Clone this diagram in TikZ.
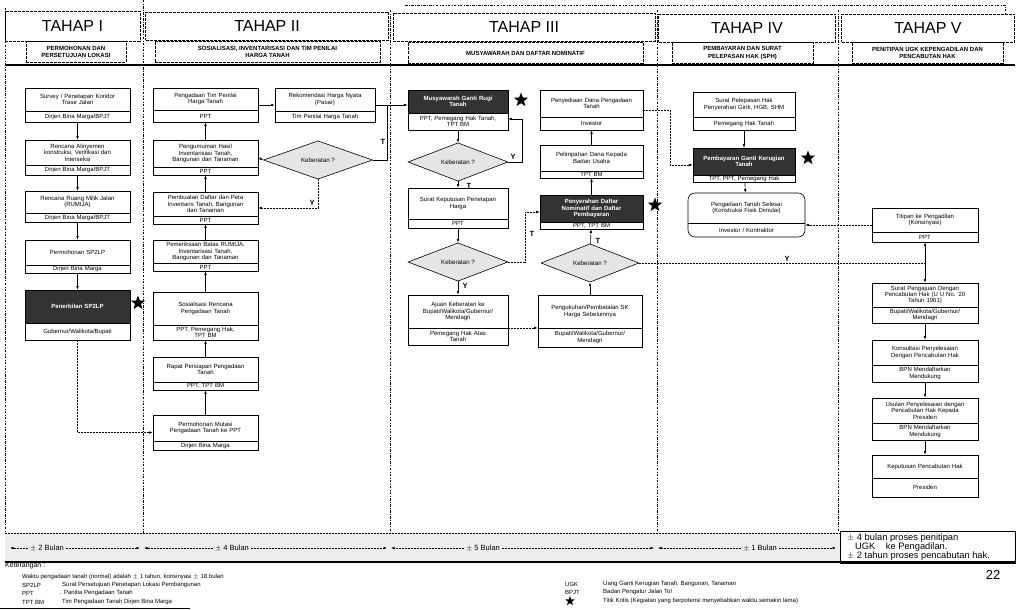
\documentclass[tikz,border=0pt]{standalone}
\usepackage{fontspec}
\setmainfont{Liberation Sans}
\usetikzlibrary{shapes.geometric,fit,arrows.meta}
\newcommand\nohy{\hyphenpenalty=10000\exhyphenpenalty=10000\tolerance=9999}
\newcommand\mkbox[8]{%
  \pgfmathsetmacro\mkw{#4-#2-3}%
  \node[bx, fit={(#2,#3) (#4,#5)}] (#1) {};
  \draw[ln] (#2,#6) -- (#4,#6);
  \node[tx, text width=\mkw pt] (#1-t) at ({(#2+#4)/2},{(#3+#6)/2}) {#7};
  \node[tx, text width=\mkw pt] (#1-b) at ({(#2+#4)/2},{(#6+#5)/2}) {#8};}
\newcommand\mkdark[8]{%
  \pgfmathsetmacro\mkw{#4-#2-3}%
  \fill[black!80] (#2,#3) rectangle (#4,#6);
  \node[bx, fit={(#2,#3) (#4,#5)}] (#1) {};
  \draw[ln] (#2,#6) -- (#4,#6);
  \node[tx, text=white, font=\fontsize{6}{6.4}\selectfont\bfseries\nohy, text width=\mkw pt] (#1-t) at ({(#2+#4)/2},{(#3+#6)/2}) {#7};
  \node[tx, text width=\mkw pt] (#1-b) at ({(#2+#4)/2},{(#6+#5)/2}) {#8};}
\newcommand\mkround[8]{%
  \pgfmathsetmacro\mkw{#4-#2-3}%
  \node[bx, rounded corners=7pt, fit={(#2,#3) (#4,#5)}] (#1) {};
  \draw[ln] (#2,#6) -- (#4,#6);
  \node[tx, text width=\mkw pt] (#1-t) at ({(#2+#4)/2},{(#3+#6)/2}) {#7};
  \node[tx, text width=\mkw pt] (#1-b) at ({(#2+#4)/2},{(#6+#5)/2}) {#8};}
\begin{document}
\begin{tikzpicture}[x=1pt,y=-1pt,
  bx/.style={draw, line width=0.6pt, inner sep=0pt},
  tx/.style={font=\fontsize{6}{6.4}\selectfont\nohy, align=center, inner sep=0pt},
  dia/.style={diamond, draw, line width=0.6pt, fill=black!10, inner sep=0pt, font=\fontsize{6.2}{7}\selectfont},
  ar/.style={-{Latex[length=3.5pt,width=2.6pt]}, line width=0.6pt},
  ln/.style={line width=0.6pt},
  dl/.style={dash pattern=on 2pt off 1pt},
  sep/.style={line width=0.6pt, dash pattern=on 2.5pt off 1.5pt on 0.6pt off 1.5pt},
  hb/.style={draw, line width=0.6pt, dash pattern=on 3pt off 1pt, font=\fontsize{16}{16}\selectfont, inner sep=0pt},
  sub/.style={draw, line width=0.6pt, dash pattern=on 3pt off 1pt, font=\fontsize{6}{7.4}\selectfont\bfseries, align=center, inner sep=0pt},
  yt/.style={font=\fontsize{7.5}{7.5}\selectfont\bfseries, inner sep=1pt},
  stt/.style={star, star points=5, star point ratio=2.4, fill=black, minimum size=15pt, inner sep=0pt},
  tl/.style={font=\fontsize{7.5}{8}\selectfont, inner sep=1.5pt, fill=black!7},
  lg/.style={font=\fontsize{6}{7}\selectfont, anchor=west, inner sep=0pt}]
\useasboundingbox (0,0) rectangle (1020,610);

% ---------- frame / headers ----------
\draw[sep] (405,5) -- (1005,5) -- (1005,14);
\draw[sep] (5,8) -- (5,563);
\draw[sep] (143,0) -- (143,533);
\draw[sep] (390,10) -- (390,533);
\draw[sep] (657,10) -- (657,533);
\draw[sep] (838,10) -- (838,533);
\node[hb, minimum width=135pt, minimum height=30pt] (h1) at (72.5,26) {TAHAP I};
\node[hb, minimum width=243pt, minimum height=28pt] (h2) at (267,26) {TAHAP II};
\node[hb, minimum width=262pt, minimum height=28pt] (h3) at (524,27) {TAHAP III};
\node[hb, minimum width=177pt, minimum height=28pt] (h4) at (747,28) {TAHAP IV};
\node[hb, minimum width=173pt, minimum height=28pt] (h5) at (928,28) {TAHAP V};
\node[sub, minimum width=100pt, minimum height=21pt] (u1) at (76,52) {PERMOHONAN DAN\\PERSETUJUAN LOKASI};
\node[sub, minimum width=225pt, minimum height=21pt] (u2) at (267.5,52) {SOSIALISASI, INVENTARISASI DAN TIM PENILAI\\HARGA TANAH};
\node[sub, minimum width=235pt, minimum height=21pt] (u3) at (525.5,53) {MUSYAWARAH DAN DAFTAR NOMINATIF};
\node[sub, minimum width=141pt, minimum height=21pt] (u4) at (742.5,53) {PEMBAYARAN DAN SURAT\\PELEPASAN HAK (SPH)};
\node[sub, minimum width=151pt, minimum height=21pt] (u5) at (927.5,53) {PENITIPAN UGK KEPENGADILAN DAN\\PENCABUTAN HAK};
\draw[line width=1.6pt] (5,65) -- (1015,65);

% ---------- Tahap I ----------
\mkbox{s1}{25}{88}{130}{122}{111}{Survey / Penetapan Koridor\\Trase Jalan}{Dirjen Bina Marga/BPJT}
\mkbox{s2}{25}{140}{130}{175}{165}{Rencana Alinyemen\\konstruksi, Verifikasi dan\\Interseksi}{Dirjen Bina Marga/BPJT}
\mkbox{s3}{25}{191}{130}{222}{213}{Rencana Ruang Milik Jalan\\(RUMIJA)}{Dirjen Bina Marga/BPJT}
\mkbox{s4}{25}{240}{130}{273}{265}{Permohonan SP2LP}{Dirjen Bina Marga}
\mkdark{s5}{25}{290}{130}{340}{323}{Penerbitan SP2LP}{Gubernur/Walikota/Bupati}
\node[stt] (st1) at (138,303) {};

% ---------- Tahap II ----------
\mkbox{p1}{153}{88}{258}{122}{110}{Pengadaan Tim Penilai\\Harga Tanah}{PPT}
\mkbox{p2}{153}{140}{258}{175}{167}{Pengumuman Hasil\\Inventarisasi Tanah,\\Bangunan dan Tanaman}{PPT}
\mkbox{p3}{153}{192}{258}{224}{216}{Pembuatan Daftar dan Peta\\Inventaris Tanah, Bangunan\\dan Tanaman}{PPT}
\mkbox{p4}{153}{240}{258}{271}{263}{Pemeriksaan Batas RUMIJA,\\Inventarisasi Tanah,\\Bangunan dan Tanaman}{PPT}
\mkbox{p5}{153}{292}{258}{340}{325}{Sosialisasi Rencana\\Pengadaan Tanah}{PPT, Pemegang Hak,\\TPT BM}
\mkbox{p6}{153}{357}{258}{390}{382}{Rapat Persiapan Pengadaan\\Tanah}{PPT, TPT BM}
\mkbox{p7}{153}{415}{258}{450}{441}{Permohonan Mutasi\\Pengadaan Tanah ke PPT}{Dirjen Bina Marga}
\mkbox{r1}{275}{88}{375}{122}{111}{Rekomendasi Harga Nyata\\(Pasar)}{Tim Penilai Harga Tanah}
\node[dia, minimum width=109pt, minimum height=36pt] (k1) at (318,160) {Keberatan ?};

% ---------- Tahap III ----------
\mkdark{m1}{408}{90}{508}{130}{113}{Musyawarah Ganti Rugi\\Tanah}{PPT, Pemegang Hak Tanah,\\TPT BM}
\node[stt] (st2) at (521,100) {};
\node[dia, minimum width=100pt, minimum height=33pt] (k2) at (458,162) {Keberatan ?};
\mkbox{m2}{408}{188}{508}{228}{219}{Surat Keputusan Penetapan\\Harga}{PPT}
\node[dia, minimum width=100pt, minimum height=35pt] (k3) at (458,262) {Keberatan ?};
\mkbox{m3}{408}{295}{508}{345}{328}{Ajuan Keberatan ke\\Bupati/Walikota/Gubernur/\\Mendagri}{Pemegang Hak Atas\\Tanah}
\mkbox{n1}{540}{90}{643}{130}{117}{Penyediaan Dana Pengadaan\\Tanah}{Investor}
\mkbox{n2}{540}{145}{643}{178}{171}{Pelimpahan Dana Kepada\\Badan Usaha}{TPT BM}
\mkdark{n3}{540}{195}{643}{229}{222}{Penyerahan Daftar\\Nominatif dan Daftar\\Pembayaran}{PPT, TPT BM}
\node[stt] (st3) at (655,205) {};
\node[dia, minimum width=98pt, minimum height=33pt] (k4) at (590,263) {Keberatan ?};
\mkbox{n4}{538}{295}{642}{347}{328}{Pengukuhan/Pembatalan SK\\Harga Sebelumnya}{Bupati/Walikota/Gubernur/\\Mendagri}

% ---------- Tahap IV ----------
\mkbox{v1}{693}{92}{795}{130}{117}{Surat Pelepasan Hak\\Penyerahan Girik, HGB, SHM}{Pemegang Hak Tanah}
\mkdark{v2}{693}{148}{795}{182}{175}{Pembayaran Ganti Kerugian\\Tanah}{TPT, PPT, Pemegang Hak}
\node[stt] (st4) at (808,158) {};
\mkround{v3}{688}{193}{805}{237}{223}{Pengadaan Tanah Selesai\\(Konstruksi Fisik Dimulai)}{Investor / Kontraktor}

% ---------- Tahap V ----------
\mkbox{w1}{872}{208}{978}{242}{232}{Titipan ke Pengadilan\\(Konsinyasi)}{PPT}
\mkbox{w2}{872}{283}{978}{323}{307}{Surat Pengajuan Dengan\\Pencabutan Hak (U U No. 20\\Tahun 1961)}{Bupati/Walikota/Gubernur/\\Mendagri}
\mkbox{w3}{872}{340}{978}{382}{365}{Konsultasi Penyelesaian\\Dengan Pencabutan Hak}{BPN Mendaftarkan\\Mendukung}
\mkbox{w4}{872}{398}{978}{440}{423}{Usulan Penyelesaian dengan\\Pencabutan Hak Kepada\\Presiden}{BPN Mendaftarkan\\Mendukung}
\mkbox{w5}{872}{455}{978}{497}{478}{Keputusan Pencabutan Hak}{Presiden}

% ---------- connectors ----------
\draw[ar] (s1) -- (s2);
\draw[ar] (s2) -- (s3);
\draw[ar] (s3) -- (s4);
\draw[ar] (s4) -- (s5);
\draw[ar,dl] (s5.south) |- (p7.west);
\draw[ar] (p7) -- (p6);
\draw[ar] (p6) -- (p5);
\draw[ar] (p5) -- (p4);
\draw[ar] (p4) -- (p3);
\draw[ar] (p3) -- (p2);
\draw[ar] (p2) -- (p1);
\draw[ar] (p1.east) -- (p1.east -| r1.west);
\draw[ar] (p2.east) -- (k1.west);
\draw[ar,dl] (k1.south) |- (p3.east);
\node[yt] (ly1) at (312,203) {Y};
\coordinate (j1) at (387,105);
\draw[ar] (r1.east) -- (r1.east -| m1.west);
\draw[ln] (k1.east) -| (j1);
\node[yt] (lt1) at (383,142) {T};
\draw[ar] (m1) -- (k2);
\coordinate (j2) at (522,119);
\draw[ar] (k2.east) -| (j2) -- (j2 -| m1.east);
\node[yt] (ly2) at (513,157) {Y};
\draw[ar] (k2) -- (m2);
\node[yt] (lt2) at (469,186) {T};
\draw[ar] (m2) -- (k3);
\coordinate (j3) at (525,212);
\draw[ar,dl] (k3.east) -| (j3) -- (j3 -| n3.west);
\node[yt] (lt3) at (532,234) {T};
\draw[ar] (k3) -- (m3);
\node[yt] (ly3) at (465,286) {Y};
\draw[ar,dl] ([yshift=-8pt]m3.east) -- ([yshift=-8pt]m3.east -| n4.west);
\draw[ar] (n4) -- (k4);
\draw[ar] (k4) -- (n3);
\node[yt] (lt4) at (598,241) {T};
\draw[ar] (n3) -- (n2);
\draw[ar] (n2) -- (n1);
\coordinate (j4) at (670,110);
\draw[ar,dl] (n1.east) -- (j4) |- (v2.west);
\draw[ar] (v1) -- (v2);
\draw[ar] (v2) -- (v3);
\coordinate (j5) at (925,263);
\draw[ln,dl] (k4.east) -- (j5);
\node[yt] (ly4) at (787,259) {Y};
\draw[ar] (j5) -- (w1.south);
\draw[ar] (j5) -- (w2.north);
\draw[ar,dl] (w1.west) -- (w1.west -| v3.east);
\draw[ar] (w2) -- (w3);
\draw[ar] (w3) -- (w4);
\draw[ar] (w4) -- (w5);

% ---------- timeline ----------
\fill[black!7] (5,533) rectangle (840,562);
\draw[ln,dl] (5,533) -- (840,533);
\draw[line width=1.2pt] (5,562) -- (1015,562);
\node[tl] (t1) at (47,548) {$\pm$ 2 Bulan};
\node[tl] (t2) at (232,548) {$\pm$ 4 Bulan};
\node[tl] (t3) at (483,548) {$\pm$ 5 Bulan};
\node[tl] (t4) at (760,548) {$\pm$ 1 Bulan};
\coordinate (e0) at (10,548);
\coordinate (e1) at (140,548);
\coordinate (e2) at (387,548);
\coordinate (e3) at (654,548);
\coordinate (e4) at (836,548);
\draw[ar,dl] (t1.west) -- (e0);
\draw[ar,dl] (t1.east) -- (e1);
\draw[ar,dl] (t2.west) -- ([xshift=4pt]e1);
\draw[ar,dl] (t2.east) -- (e2);
\draw[ar,dl] (t3.west) -- ([xshift=4pt]e2);
\draw[ar,dl] (t3.east) -- (e3);
\draw[ar,dl] (t4.west) -- ([xshift=4pt]e3);
\draw[ar,dl] (t4.east) -- (e4);
\node[draw, line width=0.7pt, minimum width=175pt, minimum height=32pt, inner sep=0pt] (tb) at (927.5,547) {};
\node[font=\fontsize{9.3}{9.3}\selectfont, align=left, anchor=west, inner sep=0pt] (tbt) at (847,547)
  {$\pm$ 4 bulan proses penitipan\\\hspace*{8pt}UGK\hspace{8pt} ke Pengadilan.\\$\pm$ 2 tahun proses pencabutan hak.};

% ---------- legend ----------
\node[lg, font=\fontsize{7}{8}\selectfont] (kt) at (5,566) {Keterangan :};
\node[lg] (g0) at (22,577) {Waktu pengadaan tanah (normal) adalah $\pm$ 1 tahun, konsinyasi $\pm$ 18 bulan};
\node[lg] (g1a) at (22,585) {SP2LP};
\node[lg] (g1b) at (62,585) {Surat Persetujuan Penetapan Lokasi Pembangunan};
\node[lg] (g2a) at (22,593) {PPT};
\node[lg] (g2b) at (60,593) {. Panitia Pengadaan Tanah};
\node[lg] (g3a) at (22,602) {TPT BM};
\node[lg] (g3b) at (62,602) {Tim Pengadaan Tanah Dirjen Bina Marga};
\draw[ln] (0,608) -- (190,608);
\node[lg] (g4a) at (565,584) {UGK};
\node[lg] (g4b) at (603,584) {Uang Ganti Kerugian Tanah, Bangunan, Tanaman};
\node[lg] (g5a) at (565,592) {BPJT};
\node[lg] (g5b) at (603,592) {Badan Pengatur Jalan Tol};
\node[stt, minimum size=10pt] (g6a) at (570,601) {};
\node[lg] (g6b) at (603,601) {Titik Kritis (Kegiatan yang berpotensi menyebabkan waktu semakin lama)};
\node[font=\fontsize{13}{13}\selectfont, inner sep=0pt] (pg) at (993,575) {22};
\end{tikzpicture}
\end{document}
